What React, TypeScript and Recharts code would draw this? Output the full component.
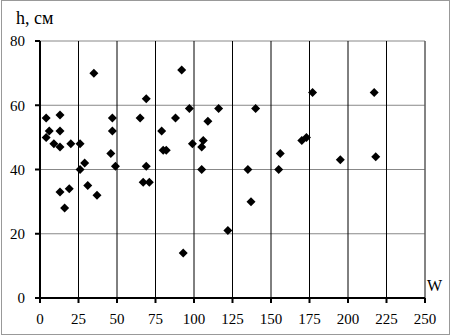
import { ScatterChart, Scatter, XAxis, YAxis, CartesianGrid, ReferenceLine } from 'recharts';

const wValues = [4, 13, 6, 13, 4, 9, 13, 20, 26, 29, 26, 47, 47, 46, 49, 65, 69, 67, 71, 13, 19, 31, 37, 16, 35, 69, 92, 97, 116, 140, 88, 109, 79, 80, 82, 99, 106, 105, 105, 135, 155, 156, 137, 122, 170, 173, 93, 177, 217, 195, 218];
const hValues = [56, 57, 52, 52, 50, 48, 47, 48, 48, 42, 40, 56, 52, 45, 41, 56, 41, 36, 36, 33, 34, 35, 32, 28, 70, 62, 71, 59, 59, 59, 56, 55, 52, 46, 46, 48, 49, 47, 40, 40, 40, 45, 30, 21, 49, 50, 14, 64, 64, 43, 44];
const xTicks = [0, 25, 50, 75, 100, 125, 150, 175, 200, 225, 250];
const yTicks = [0, 20, 40, 60, 80];

const points = wValues.map((w, i) => ({ w, h: hValues[i] }));

const font = 'Liberation Serif, DejaVu Serif, serif';

const Diamond = (props: any) => {
  const { cx, cy } = props;
  const r = 4.5;
  return <polygon points={`${cx},${cy - r} ${cx + r},${cy} ${cx},${cy + r} ${cx - r},${cy}`} fill="#000" />;
};

export default function App() {
  return (
    <div style={{ position: 'absolute', left: 0, top: 0, width: 454, height: 336, fontFamily: font }}>
      <div style={{ position: 'absolute', left: 1, top: 0, width: 447, height: 333, border: '1px solid #999' }} />
      <ScatterChart width={454} height={336} margin={{ top: 41, right: 29, bottom: 8, left: 0 }} style={{ fontFamily: font }}>
        <CartesianGrid horizontal={true} vertical={false} stroke="#888" strokeWidth={1} />
        <CartesianGrid horizontal={false} vertical={true} stroke="#000" strokeWidth={1} />
        <ReferenceLine x={250} stroke="#888" strokeWidth={1} />
        <XAxis
          type="number"
          dataKey="w"
          domain={[0, 250]}
          ticks={xTicks}
          height={30}
          tickSize={5}
          tickMargin={10}
          axisLine={{ stroke: '#000', strokeWidth: 2 }}
          tickLine={{ stroke: '#000', strokeWidth: 2 }}
          tick={{ fill: '#000', fontSize: 15, fontFamily: font }}
          interval={0}
        />
        <YAxis
          type="number"
          dataKey="h"
          domain={[0, 80]}
          ticks={yTicks}
          width={40}
          tickSize={5}
          tickMargin={10}
          axisLine={{ stroke: '#000', strokeWidth: 2 }}
          tickLine={{ stroke: '#000', strokeWidth: 2 }}
          tick={{ fill: '#000', fontSize: 15, fontFamily: font }}
          interval={0}
        />
        <Scatter data={points} shape={Diamond} isAnimationActive={false} />
      </ScatterChart>
      <span style={{ position: 'absolute', left: 16, top: 6, fontSize: 18, lineHeight: '24px', color: '#000', fontFamily: font }}>h, см</span>
      <span style={{ position: 'absolute', left: 427, top: 276, fontSize: 16, lineHeight: '20px', color: '#000', fontFamily: font }}>W</span>
    </div>
  );
}
